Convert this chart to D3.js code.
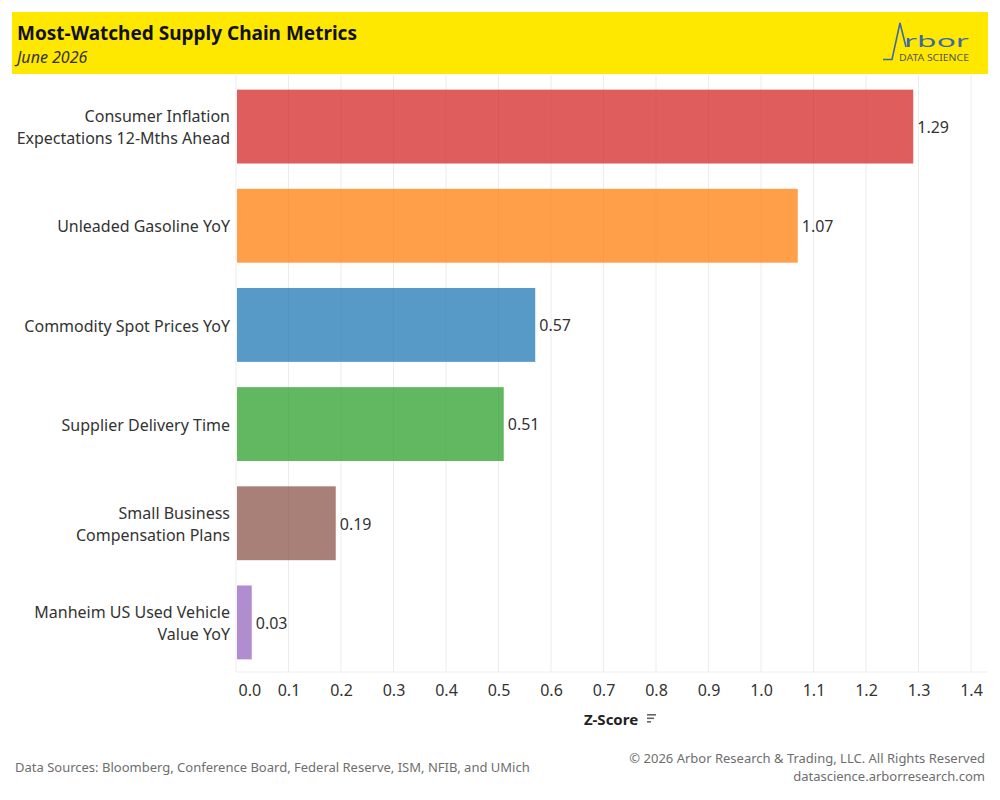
<!DOCTYPE html>
<html>
<head>
<meta charset="utf-8">
<script src="https://cdn.jsdelivr.net/npm/d3@7"></script>
<style>
  body { margin: 0; background: #fff; }
  svg text { font-family: "Noto Sans", sans-serif; }
</style>
</head>
<body>
<div id="chart"></div>
<script>
// chart data
var categories = [
    ["Consumer Inflation", "Expectations 12-Mths Ahead"],
    ["Unleaded Gasoline YoY"],
    ["Commodity Spot Prices YoY"],
    ["Supplier Delivery Time"],
    ["Small Business", "Compensation Plans"],
    ["Manheim US Used Vehicle", "Value YoY"]
];
var zScores = [1.29, 1.07, 0.57, 0.51, 0.19, 0.03];
var barColors = ["#d62728", "#ff7f0e", "#1f77b4", "#2ca02c", "#8c564b", "#9467bd"];
var xTicks = [0, 0.1, 0.2, 0.3, 0.4, 0.5, 0.6, 0.7, 0.8, 0.9, 1.0, 1.1, 1.2, 1.3, 1.4];

function init() {
    var w = 1000;
    var h = 800;
    var plot = { left: 236, right: 971, top: 75, bottom: 672 };

    var data = categories.map(function(c, i) {
        return { key: c.join(" "), lines: c, value: zScores[i], color: barColors[i] };
    });

    var svg = d3.select("#chart")
        .append("svg")
        .attr("width", w)
        .attr("height", h);

    // header banner
    svg.append("rect")
        .attr("x", 12).attr("y", 12)
        .attr("width", 976).attr("height", 62)
        .attr("fill", "#ffe800");

    svg.append("text")
        .attr("x", 17).attr("y", 39.5)
        .style("font-size", "19px")
        .style("font-weight", "bold")
        .attr("fill", "#111")
        .text("Most-Watched Supply Chain Metrics");

    svg.append("text")
        .attr("x", 17).attr("y", 63)
        .style("font-size", "16px")
        .style("font-style", "italic")
        .attr("fill", "#333")
        .text("June 2026");

    // logo
    var logo = svg.append("g");
    logo.append("polyline")
        .attr("points", "883,59.5 892,59.5 900,23 906,47")
        .attr("fill", "none")
        .attr("stroke", "#3f68a6")
        .attr("stroke-width", 1.6);
    logo.append("text")
        .attr("x", 904).attr("y", 47)
        .attr("textLength", 65)
        .attr("lengthAdjust", "spacingAndGlyphs")
        .style("font-size", "16px")
        .attr("fill", "#3f68a6")
        .text("rbor");
    logo.append("text")
        .attr("x", 899).attr("y", 61)
        .attr("textLength", 70)
        .attr("lengthAdjust", "spacingAndGlyphs")
        .style("font-size", "9px")
        .attr("fill", "#555")
        .text("DATA SCIENCE");

    var xScale = d3.scaleLinear()
        .domain([0, 1.4])
        .range([plot.left, plot.right]);

    var yScale = d3.scaleBand()
        .domain(data.map(function(d) { return d.key; }))
        .range([plot.top + 2, plot.bottom])
        .paddingInner(0.255)
        .paddingOuter(0.1275);

    // gridlines
    svg.append("g")
        .selectAll("line")
        .data(xTicks)
        .enter()
        .append("line")
        .attr("x1", function(d) { return xScale(d); })
        .attr("x2", function(d) { return xScale(d); })
        .attr("y1", plot.top)
        .attr("y2", plot.bottom)
        .attr("stroke", "#ececec")
        .attr("stroke-width", 1);

    svg.append("line")
        .attr("x1", plot.left).attr("x2", 988)
        .attr("y1", plot.bottom).attr("y2", plot.bottom)
        .attr("stroke", "#ececec");

    // bars
    svg.append("g")
        .selectAll("rect")
        .data(data)
        .enter()
        .append("rect")
        .attr("x", xScale(0) + 1)
        .attr("y", function(d) { return yScale(d.key); })
        .attr("width", function(d) { return xScale(d.value) - xScale(0) - 1; })
        .attr("height", yScale.bandwidth())
        .attr("fill", function(d) { return d.color; })
        .attr("fill-opacity", 0.75);

    // value labels
    svg.append("g")
        .selectAll("text")
        .data(data)
        .enter()
        .append("text")
        .attr("x", function(d) { return xScale(d.value) + 4; })
        .attr("y", function(d) { return yScale(d.key) + yScale.bandwidth() / 2; })
        .attr("dy", "0.4em")
        .style("font-size", "16px")
        .attr("fill", "#333")
        .text(function(d) { return d3.format(".2f")(d.value); });

    // category labels
    var labels = svg.append("g")
        .selectAll("text")
        .data(data)
        .enter()
        .append("text")
        .attr("text-anchor", "end")
        .style("font-size", "16px")
        .attr("fill", "#333");

    labels.selectAll("tspan")
        .data(function(d) {
            var mid = yScale(d.key) + yScale.bandwidth() / 2;
            return d.lines.map(function(l, i) {
                return { text: l, y: mid + (i - (d.lines.length - 1) / 2) * 22 };
            });
        })
        .enter()
        .append("tspan")
        .attr("x", 230)
        .attr("y", function(d) { return d.y; })
        .attr("dy", "0.42em")
        .text(function(d) { return d.text; });

    // x axis
    var xAxis = svg.append("g")
        .attr("transform", "translate(0," + (plot.bottom + 24) + ")")
        .call(d3.axisBottom(xScale).tickValues(xTicks).tickFormat(d3.format(".1f")).tickSize(0));
    xAxis.select(".domain").remove();
    xAxis.selectAll("text")
        .style("font-size", "16px")
        .style("font-family", "Noto Sans, sans-serif")
        .attr("fill", "#333")
        .attr("dy", 0)
        .attr("y", 0);
    xAxis.selectAll("text")
        .filter(function(d) { return d === 0; })
        .attr("text-anchor", "start")
        .attr("x", 2);

    // x axis title with sort icon
    svg.append("text")
        .attr("x", 611).attr("y", 725)
        .attr("text-anchor", "middle")
        .style("font-size", "15px")
        .style("font-weight", "bold")
        .attr("fill", "#222")
        .text("Z-Score");

    var sortIcon = svg.append("g").attr("fill", "#666");
    [9, 7, 4].forEach(function(len, i) {
        sortIcon.append("rect")
            .attr("x", 647).attr("y", 714 + i * 3.5)
            .attr("width", len).attr("height", 1.6);
    });

    // footer
    svg.append("text")
        .attr("x", 15).attr("y", 772)
        .style("font-size", "13px")
        .attr("fill", "#6e6e6e")
        .text("Data Sources: Bloomberg, Conference Board, Federal Reserve, ISM, NFIB, and UMich");

    svg.append("text")
        .attr("x", 985).attr("y", 763)
        .attr("text-anchor", "end")
        .style("font-size", "13px")
        .attr("fill", "#6e6e6e")
        .text("\u00a9 2026 Arbor Research & Trading, LLC. All Rights Reserved");

    svg.append("text")
        .attr("x", 985).attr("y", 781)
        .attr("text-anchor", "end")
        .style("font-size", "13px")
        .attr("fill", "#6e6e6e")
        .text("datascience.arborresearch.com");
}

window.onload = init;
</script>
</body>
</html>
